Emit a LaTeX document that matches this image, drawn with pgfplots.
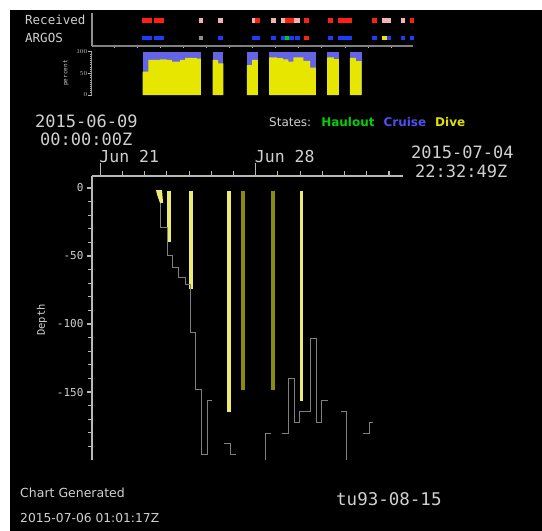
\documentclass[border=0pt]{standalone}
\usepackage{pgfplots}
\pgfplotsset{compat=1.18}
\usepackage{fontspec}
\setmainfont{DejaVu Sans}
\newfontfamily\mono{DejaVu Sans Mono}
\definecolor{axgray}{HTML}{B8B8B8}
\definecolor{txtgray}{HTML}{D0D0D0}
\definecolor{stepgray}{HTML}{808080}
\definecolor{brightY}{HTML}{EEEC70}
\definecolor{oliveY}{HTML}{8E8A10}
\definecolor{rcvred}{HTML}{FF2010}
\definecolor{rcvpink}{HTML}{F0B4B4}
\definecolor{argblue}{HTML}{1E3CFF}
\definecolor{arggray}{HTML}{909090}
\definecolor{arggreen}{HTML}{00D000}
\definecolor{argyellow}{HTML}{E8E800}
\definecolor{pctblue}{HTML}{6464E6}
\definecolor{pctyellow}{HTML}{E6E600}
\definecolor{haulout}{HTML}{00D000}
\definecolor{cruise}{HTML}{5050F0}
\definecolor{dive}{HTML}{E0E000}
\begin{document}
\begin{tikzpicture}[x=1pt,y=1pt]
\useasboundingbox (0,0) rectangle (542,-531);
\fill[white] (0,0) rectangle (542,-531);
\fill[black] (10,-10) rectangle (542,-531);

% ---------- Received / ARGOS strip ----------
\begin{axis}[at={(92pt,-46pt)}, anchor=south west, scale only axis,
  width=321pt, height=33pt, xmin=20.63, xmax=34.63, ymin=0, ymax=33,
  axis x line*=bottom, axis y line*=left, clip=false,
  axis line style={-, draw=arggray, line width=1.6pt},
  x axis line style={draw=stepgray},
  xtick={21.59,22.60,23.60,24.61,25.62,26.62,27.63,28.64,29.65,30.65,31.66,32.67,33.67},
  xticklabels={}, ytick=\empty,
  minor ytick={1,3.5,...,33},
  major tick length=3pt, minor tick length=3pt,
  tick align=center, tick style={draw=axgray, line width=0.8pt},
  unbounded coords=jump]
\addplot[rcvred, line width=4.5pt] coordinates {(22.80,25.3)(23.23,25.3)(23.23,nan)(23.35,25.3)(23.78,25.3)(23.78,nan)(27.74,25.3)(27.96,25.3)(27.96,nan)(29.05,25.3)(29.44,25.3)(29.44,nan)(29.89,25.3)(30.11,25.3)(30.11,nan)(30.94,25.3)(31.15,25.3)(31.15,nan)(31.35,25.3)(31.96,25.3)(31.96,nan)(32.85,25.3)(33.05,25.3)(33.05,nan)(34.50,25.3)(34.69,25.3)};
\addplot[rcvpink, line width=4.5pt] coordinates {(25.30,25.3)(25.48,25.3)(25.48,nan)(26.11,25.3)(26.33,25.3)(26.33,nan)(27.62,25.3)(27.74,25.3)(27.74,nan)(28.42,25.3)(28.64,25.3)(28.64,nan)(28.87,25.3)(29.05,25.3)(29.05,nan)(29.44,25.3)(29.70,25.3)(29.70,nan)(33.26,25.3)(33.67,25.3)(33.67,nan)(34.09,25.3)(34.28,25.3)};
\addplot[argblue, line width=4.5pt] coordinates {(22.80,8)(23.23,8)(23.23,nan)(23.35,8)(23.78,8)(23.78,nan)(26.11,8)(26.33,8)(26.33,nan)(27.62,8)(27.96,8)(27.96,nan)(28.42,8)(28.64,8)(28.64,nan)(28.87,8)(29.05,8)(29.05,nan)(29.23,8)(29.44,8)(29.44,nan)(29.48,8)(29.70,8)(29.70,nan)(30.94,8)(31.15,8)(31.15,nan)(31.35,8)(31.96,8)(31.96,nan)(32.85,8)(33.05,8)(33.05,nan)(33.48,8)(33.67,8)(33.67,nan)(34.09,8)(34.28,8)(34.28,nan)(34.50,8)(34.69,8)};
\addplot[arggray, line width=4.5pt] coordinates {(25.30,8)(25.48,8)};
\addplot[arggreen, line width=4.5pt] coordinates {(29.05,8)(29.23,8)};
\addplot[rcvred, line width=4.5pt] coordinates {(29.89,8)(30.11,8)};
\addplot[argyellow, line width=4.5pt] coordinates {(33.26,8)(33.48,8)};
\end{axis}

% ---------- percent strip ----------
\begin{axis}[at={(92pt,-95pt)}, anchor=south west, scale only axis,
  width=321pt, height=43.3pt, xmin=20.63, xmax=34.63, ymin=0, ymax=100,
  axis x line=none, axis y line*=left,
  axis line style={-, draw=arggray, line width=1pt},
  ytick={0,50,100}, minor ytick={0,5,...,100},
  major tick length=3.5pt, minor tick length=2pt,
  tick align=outside, tick style={draw=axgray, line width=0.7pt},
  yticklabel style={font=\mono\fontsize{6.5}{7}\selectfont, text=txtgray, inner sep=1pt}]
\addplot[pctblue, fill=pctblue, draw=none] coordinates {(22.84,0)(22.84,100)(25.38,100)(25.38,0)};
\addplot[pctblue, fill=pctblue, draw=none] coordinates {(25.89,0)(25.89,100)(26.36,100)(26.36,0)};
\addplot[pctblue, fill=pctblue, draw=none] coordinates {(27.38,0)(27.38,100)(27.86,100)(27.86,0)};
\addplot[pctblue, fill=pctblue, draw=none] coordinates {(28.35,0)(28.35,100)(30.39,100)(30.39,0)};
\addplot[pctblue, fill=pctblue, draw=none] coordinates {(30.89,0)(30.89,100)(31.40,100)(31.40,0)};
\addplot[pctblue, fill=pctblue, draw=none] coordinates {(31.88,0)(31.88,100)(32.39,100)(32.39,0)};
\addplot[const plot, fill=pctyellow, draw=none] coordinates {(22.84,54)(23.09,81)(23.60,82)(23.89,81)(24.11,77)(24.47,81)(24.69,86)(25.20,84)(25.38,84)} \closedcycle;
\addplot[const plot, fill=pctyellow, draw=none] coordinates {(25.89,81)(26.13,73)(26.36,73)} \closedcycle;
\addplot[const plot, fill=pctyellow, draw=none] coordinates {(27.38,69)(27.61,81)(27.86,81)} \closedcycle;
\addplot[const plot, fill=pctyellow, draw=none] coordinates {(28.35,87)(28.69,85)(28.97,82)(29.19,77)(29.41,87)(29.85,79)(30.14,63)(30.39,63)} \closedcycle;
\addplot[const plot, fill=pctyellow, draw=none] coordinates {(30.89,87)(31.18,83)(31.40,83)} \closedcycle;
\addplot[const plot, fill=pctyellow, draw=none] coordinates {(31.88,86)(32.14,78)(32.39,78)} \closedcycle;
\end{axis}

% ---------- main depth chart ----------
\begin{axis}[at={(92pt,-460pt)}, anchor=south west, scale only axis,
  width=311pt, height=284pt, xmin=20.63, xmax=34.63, ymin=-200, ymax=8.8,
  axis x line*=top, axis y line*=left, clip=false,
  axis line style={-, draw=axgray, line width=1.2pt},
  xtick={22,23,24,25,26,27,29,30,31,32,33,34}, xticklabels={},
  ytick={0,-50,-100,-150}, minor ytick={-190,-180,...,0},
  major tick length=5pt, minor tick length=4pt,
  tick align=outside, tick style={draw=axgray, line width=1.1pt},
  /pgf/number format/assume math mode=true,
  yticklabel style={font=\mono\fontsize{11}{11}\selectfont, text=txtgray},
  unbounded coords=jump]
% dive bars
\addplot[fill=brightY, draw=none] coordinates {(23.51,-1.5)(23.78,-1.5)(23.83,-11)(23.69,-11)(23.56,-5)};
\addplot[brightY, line width=3.5pt] coordinates {(24.10,-2)(24.10,-40)(24.10,nan)(25.09,-2)(25.09,-74.3)(25.09,nan)(26.80,-2)(26.80,-164.7)(26.80,nan)(30.05,-2)(30.05,-156.6)};
\addplot[oliveY, line width=3.5pt] coordinates {(27.43,-2)(27.43,-148.5)(27.43,nan)(28.78,-2)(28.78,-148.5)};
% depth step line
\addplot[stepgray, line width=1pt] coordinates {
(23.725,-11.0)(23.725,-29.4)(24.02,-29.4)(24.02,-49.3)(24.27,-49.3)(24.27,-58.3)(24.52,-58.3)(24.52,-65.7)(24.82,-65.7)(24.82,-70.8)(25.05,-70.8)(25.05,-106.1)(25.28,-106.1)(25.28,-148.0)(25.54,-148.0)(25.54,-196.3)(25.82,-196.3)(25.82,-156.4)(26.05,-156.4)
(26.05,nan)
(26.58,-188.2)(26.85,-188.2)(26.85,-196.3)(27.12,-196.3)
(27.12,nan)
(28.42,-200)(28.42,-180.4)(28.68,-180.4)
(28.68,nan)
(29.20,-180.4)(29.47,-180.4)(29.47,-140.4)(29.73,-140.4)(29.73,-172.6)(29.97,-172.6)(29.97,-164.5)(30.48,-164.5)(30.48,-110.5)(30.72,-110.5)(30.72,-172.6)(30.98,-172.6)(30.98,-156.4)(31.27,-156.4)
(31.27,nan)
(31.83,-164.5)(32.07,-164.5)(32.07,-200)
(32.07,nan)
(32.82,-180.4)(33.11,-180.4)(33.11,-172.6)(33.30,-172.6)};
\end{axis}
\begin{axis}[at={(92pt,-460pt)}, anchor=south west, scale only axis,
  width=311pt, height=284pt, xmin=20.63, xmax=34.63, ymin=-200, ymax=8.8,
  axis x line*=top, axis y line=none,
  axis line style={-, draw=axgray, line width=1.2pt},
  xtick={21,28}, xticklabels={Jun 21,Jun 28},
  major tick length=13pt, tick align=outside, tick style={draw=axgray, line width=1.1pt},
  xticklabel style={font=\mono\fontsize{16.5}{17}\selectfont, text=txtgray, anchor=south west, inner sep=0pt, xshift=-1pt, yshift=0pt}]
\addplot[draw=none] coordinates {(21,0)};
\end{axis}

% ---------- texts ----------
\node[anchor=base west, inner sep=0pt, text=txtgray, font=\mono\fontsize{12.5}{13}\selectfont] at (25,-24.5) {Received};
\node[anchor=base west, inner sep=0pt, text=txtgray, font=\mono\fontsize{12.5}{13}\selectfont] at (25,-42) {ARGOS};
\node[rotate=90, inner sep=0pt, text=txtgray, font=\mono\fontsize{6}{6}\selectfont] at (66,-73) {percent};
\node[rotate=90, inner sep=0pt, text=txtgray, font=\mono\fontsize{10.5}{11}\selectfont] at (42,-320) {Depth};
\node[anchor=base west, inner sep=0pt, text=txtgray, font=\mono\fontsize{17}{17}\selectfont] at (35,-127) {2015-06-09};
\node[anchor=base west, inner sep=0pt, text=txtgray, font=\mono\fontsize{17}{17}\selectfont] at (40,-145) {00:00:00Z};
\node[anchor=base west, inner sep=0pt, text=txtgray, font=\mono\fontsize{17}{17}\selectfont] at (411,-158) {2015-07-04};
\node[anchor=base west, inner sep=0pt, text=txtgray, font=\mono\fontsize{17}{17}\selectfont] at (415,-177) {22:32:49Z};
\node[anchor=base west, inner sep=0pt, font=\fontsize{12}{12}\selectfont] at (269,-126) {\textcolor{txtgray}{States:}\hspace{10pt}\textcolor{haulout}{\bfseries Haulout}\hspace{9pt}\textcolor{cruise}{\bfseries Cruise}\hspace{9pt}\textcolor{dive}{\bfseries Dive}};
\node[anchor=base west, inner sep=0pt, text=txtgray, font=\fontsize{12.5}{13}\selectfont] at (20,-497) {Chart Generated};
\node[anchor=base west, inner sep=0pt, text=txtgray, font=\fontsize{12.3}{13}\selectfont] at (20,-522) {2015-07-06 01:01:17Z};
\node[anchor=base west, inner sep=0pt, text=txtgray, font=\mono\fontsize{17.5}{18}\selectfont] at (336,-505) {tu93-08-15};
\end{tikzpicture}
\end{document}
